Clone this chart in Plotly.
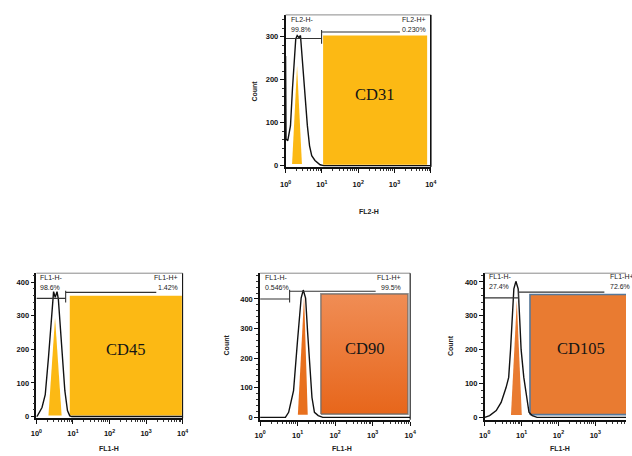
import plotly.graph_objects as go

W, H = 632, 456

# ---------------- data ----------------
markers = ["CD31", "CD45", "CD90", "CD105"]
channels = ["FL2-H", "FL1-H", "FL1-H", "FL1-H"]
neg_gate_names = ["FL2-H-", "FL1-H-", "FL1-H-", "FL1-H-"]
pos_gate_names = ["FL2-H+", "FL1-H+", "FL1-H+", "FL1-H+"]
neg_pct = ["99.8%", "98.6%", "0.546%", "27.4%"]
pos_pct = ["0.230%", "1.42%", "99.5%", "72.6%"]

# sample histograms (fluorescence intensity, count)
cd31_fl = [1.0, 1.028, 1.148, 1.365, 1.549, 1.738, 1.905, 2.089, 2.344, 2.570,
           2.818, 3.162, 3.467, 3.981, 4.571, 5.248, 6.457, 8.913, 11.22, 10000]
cd31_count = [255, 62, 58, 93, 180, 247, 295, 303, 298, 303,
              255, 195, 154, 93, 46, 23, 12, 2, 0, 0]

cd45_fl = [1.0, 1.064, 1.422, 1.746, 2.138, 2.483, 2.805, 2.951, 3.273, 3.664,
           3.981, 4.406, 5.082, 5.998, 7.079, 8.185, 9.333, 10000]
cd45_count = [0, 2, 27, 65, 176, 274, 350, 372, 355, 372,
              350, 274, 176, 77, 18, 2, 0, 0]

cd90_fl = [1.0, 4.732, 5.768, 7.798, 9.931, 12.42, 14.13, 16.33, 18.41, 20.80,
           24.15, 28.12, 35.48, 46.77, 10000]
cd90_count = [0, 0, 17, 90, 258, 403, 430, 403, 291, 179,
              67, 17, 6, 0, 0]

cd105_fl = [1.0, 1.358, 2.051, 2.786, 3.793, 4.467, 5.012, 5.585, 6.166, 6.998,
            8.072, 8.790, 9.705, 11.48, 12.88, 14.35, 15.85, 19.50, 26.30, 10000]
cd105_count = [0, 5, 20, 44, 88, 118, 200, 300, 380, 402,
               380, 300, 200, 118, 78, 34, 15, 5, 0, 0]

# isotype-control peaks (drawn as filled triangles)
cd31_iso_fl, cd31_iso_count = [1.51, 2.07, 2.82], [4, 232, 4]
cd45_iso_fl, cd45_iso_count = [2.138, 3.236, 4.898], [3, 294, 3]
cd90_iso_fl, cd90_iso_count = [10.16, 14.89, 18.62], [9, 409, 9]
cd105_iso_fl, cd105_iso_count = [5.152, 7.413, 10.12], [7, 345, 7]

# positive regions (fluorescence bounds, count bounds)
cd31_pos_fl, cd31_pos_count = [10.8, 7943], [2, 303]
cd45_pos_fl, cd45_pos_count = [8.185, 9550], [3, 360]
cd90_pos_fl, cd90_pos_count = [41.69, 8710], [11, 417]
cd105_pos_fl, cd105_pos_count = [16.87, 8913], [8, 363]

# gates
gate_split = [9.8, 6.31, 6.12, 8.26]
gate_neg_level = [296, 352, 400, 353]
gate_pos_level = [311, 370, 426, 370]
gate_pos_end = [1413, 1905, 1202, 1758]

x_ticks = [1, 10, 100, 1000, 10000]
x_ticktext = ["10<sup>0</sup>", "10<sup>1</sup>", "10<sup>2</sup>", "10<sup>3</sup>", "10<sup>4</sup>"]
x_minor = [m * d for d in [1, 10, 100, 1000] for m in range(2, 10)]

hist_fl = [cd31_fl, cd45_fl, cd90_fl, cd105_fl]
hist_count = [cd31_count, cd45_count, cd90_count, cd105_count]
iso_fl = [cd31_iso_fl, cd45_iso_fl, cd90_iso_fl, cd105_iso_fl]
iso_count = [cd31_iso_count, cd45_iso_count, cd90_iso_count, cd105_iso_count]
pos_fl = [cd31_pos_fl, cd45_pos_fl, cd90_pos_fl, cd105_pos_fl]
pos_count = [cd31_pos_count, cd45_pos_count, cd90_pos_count, cd105_pos_count]

# ---------------- style / layout ----------------
GOLD = "#FCB914"
ORANGE = "#E97B31"
panels = [
    dict(x0=285, x1=433, y0=15, y1=168, xr=[0, 4], yr=[-3, 351], yt=[0, 100, 200, 300],
         color=GOLD, iso=GOLD, right=True, count=(253, 92), title=(370, 213),
         neg=(288, 20), pos=(430, 20), posanchor="right", mark=(376, 95), so=5),
    dict(x0=31, x1=180, y0=275, y1=421, xr=[0, 4], yr=[-5, 427], yt=[0, 100, 200, 300, 400],
         color=GOLD, iso=GOLD, right=True, count=None, title=(105, 451),
         neg=(33, 279), pos=(177, 279), posanchor="right", mark=(122, 352), so=3),
    dict(x0=259, x1=412, y0=275, y1=422.5, xr=[0, 4], yr=[-8, 487], yt=[0, 100, 200, 300, 400],
         color="grad", iso="#E8701E", right=True, count=(225, 347), title=(342, 451),
         neg=(261.5, 279), pos=(405, 279), posanchor="right", mark=(365, 351), so=3),
    dict(x0=488, x1=632, y0=275, y1=422.5, xr=[0, 3.832], yr=[-7, 426], yt=[0, 100, 200, 300, 400],
         color=ORANGE, iso=ORANGE, right=False, count=(453, 348), title=(565, 451),
         neg=(490.5, 278), pos=(614, 278), posanchor="left", mark=(586, 351), so=3),
]

def P(px, py):
    return px / W, 1 - py / H

FONT = "Liberation Sans, Arial, sans-serif"
fig = go.Figure()
annotations = []
shapes = []

for i, p in enumerate(panels):
    n = "" if i == 0 else str(i + 1)
    xa, ya = "x" + n, "y" + n
    # positive region rectangle
    a, b = pos_fl[i]
    c, d = pos_count[i]
    rx, ry = [a, a, b, b, a], [c, d, d, c, c]
    if p["color"] == "grad":
        fig.add_trace(go.Scatter(x=rx, y=ry, xaxis=xa, yaxis=ya, mode="lines", fill="toself",
                                 line=dict(color="rgba(105,105,105,0.75)", width=1.6),
                                 fillgradient=dict(type="vertical",
                                                   colorscale=[[0, "#E7661B"], [1, "#F08D55"]]),
                                 hoverinfo="skip", showlegend=False))
    elif i == 3:
        fig.add_trace(go.Scatter(x=rx, y=ry, xaxis=xa, yaxis=ya, mode="lines", fill="toself",
                                 fillcolor=ORANGE, line=dict(color="#56789A", width=1.6),
                                 hoverinfo="skip", showlegend=False))
    else:
        fig.add_trace(go.Scatter(x=rx, y=ry, xaxis=xa, yaxis=ya, mode="lines", fill="toself",
                                 fillcolor=p["color"], line=dict(width=0),
                                 hoverinfo="skip", showlegend=False))
    # isotype triangle
    tx = iso_fl[i] + [iso_fl[i][0]]
    ty = iso_count[i] + [iso_count[i][0]]
    fig.add_trace(go.Scatter(x=tx, y=ty, xaxis=xa, yaxis=ya, mode="lines", fill="toself",
                             fillcolor=p["iso"], line=dict(width=0),
                             hoverinfo="skip", showlegend=False))
    # histogram
    fig.add_trace(go.Scatter(x=hist_fl[i], y=hist_count[i], xaxis=xa, yaxis=ya, mode="lines",
                             line=dict(color="#111111", width=1.4),
                             hoverinfo="skip", showlegend=False))
    # gates
    s = gate_split[i]
    gn, gp = gate_neg_level[i], gate_pos_level[i]
    gx = [1, s, None, s, gate_pos_end[i], None, s, s]
    gy = [gn, gn, None, gp, gp, None, gn - 12, gp + 5]
    fig.add_trace(go.Scatter(x=gx, y=gy, xaxis=xa, yaxis=ya, mode="lines",
                             line=dict(color="#333333", width=1.1),
                             hoverinfo="skip", showlegend=False))

    xd = [p["x0"] / W, p["x1"] / W]
    yd = [1 - p["y1"] / H, 1 - p["y0"] / H]
    tick_font = dict(family=FONT, size=7.5, color="#111111", weight="bold")
    fig.layout["xaxis" + n] = dict(
        domain=xd, type="log", range=p["xr"], anchor=ya,
        tickmode="array", tickvals=x_ticks, ticktext=x_ticktext,
        ticks="outside", ticklen=4, tickwidth=1.2, tickcolor="#111",
        showline=True, linecolor="#111", linewidth=1.6,
        showgrid=False, zeroline=False, tickfont=tick_font,
        ticklabelstandoff=p["so"],
        minor=dict(tickmode="array", tickvals=x_minor, ticks="outside", ticklen=2,
                   tickwidth=0.8, tickcolor="#333", showgrid=False),
    )
    fig.layout["yaxis" + n] = dict(
        domain=yd, range=p["yr"], anchor=xa,
        tickmode="array", tickvals=p["yt"],
        ticks="outside", ticklen=4, tickwidth=1.2, tickcolor="#111",
        showline=True, linecolor="#111", linewidth=1.6,
        showgrid=False, zeroline=False, tickfont=tick_font,
        minor=dict(dtick=20, ticks="outside", ticklen=2, tickwidth=0.8,
                   tickcolor="#333", showgrid=False),
    )
    # frame: thin top border, right border
    shapes.append(dict(type="line", xref=xa + " domain", yref=ya + " domain",
                       x0=0, x1=1, y0=1, y1=1, line=dict(color="#8a8a8a", width=1)))
    if p["right"]:
        shapes.append(dict(type="line", xref=xa + " domain", yref=ya + " domain",
                           x0=1, x1=1, y0=0, y1=1,
                           line=dict(color="#111", width=1.6 if i == 0 else 1.1)))

    # texts
    gf = dict(family=FONT, size=7, color="#1a1a1a")
    nx, ny = P(*p["neg"])
    annotations.append(dict(x=nx, y=ny, xref="paper", yref="paper", text=neg_gate_names[i],
                            showarrow=False, xanchor="left", yanchor="middle", font=gf))
    nx2, ny2 = P(p["neg"][0], p["neg"][1] + 10)
    annotations.append(dict(x=nx2, y=ny2, xref="paper", yref="paper", text=neg_pct[i],
                            showarrow=False, xanchor="left", yanchor="middle", font=gf))
    qx, qy = P(*p["pos"])
    annotations.append(dict(x=qx, y=qy, xref="paper", yref="paper", text=pos_gate_names[i],
                            showarrow=False, xanchor=p["posanchor"], yanchor="middle", font=gf))
    qx2, qy2 = P(p["pos"][0], p["pos"][1] + 10)
    annotations.append(dict(x=qx2, y=qy2, xref="paper", yref="paper", text=pos_pct[i],
                            showarrow=False, xanchor=p["posanchor"], yanchor="middle", font=gf))
    mx, my = P(*p["mark"])
    annotations.append(dict(x=mx, y=my, xref="paper", yref="paper", text=markers[i],
                            showarrow=False, xanchor="center", yanchor="middle",
                            font=dict(family="Liberation Serif, Times New Roman, serif",
                                      size=16.5, color="#151515")))
    tx_, ty_ = P(*p["title"])
    annotations.append(dict(x=tx_, y=ty_, xref="paper", yref="paper", text=channels[i],
                            showarrow=False, xanchor="center", yanchor="middle",
                            font=dict(family=FONT, size=7, color="#222222", weight="bold")))
    if p["count"]:
        cx, cy = P(*p["count"])
        annotations.append(dict(x=cx, y=cy, xref="paper", yref="paper", text="Count",
                                showarrow=False, xanchor="center", yanchor="middle",
                                textangle=-90,
                                font=dict(family=FONT, size=7, color="#222222", weight="bold")))

fig.update_layout(
    width=W, height=H, autosize=False,
    margin=dict(l=0, r=0, t=0, b=0),
    paper_bgcolor="white", plot_bgcolor="white",
    showlegend=False,
    annotations=annotations, shapes=shapes,
)

fig.write_html("out.html", config={"displayModeBar": False},
               post_script="document.body.style.margin='0';document.body.style.overflow='hidden';")
